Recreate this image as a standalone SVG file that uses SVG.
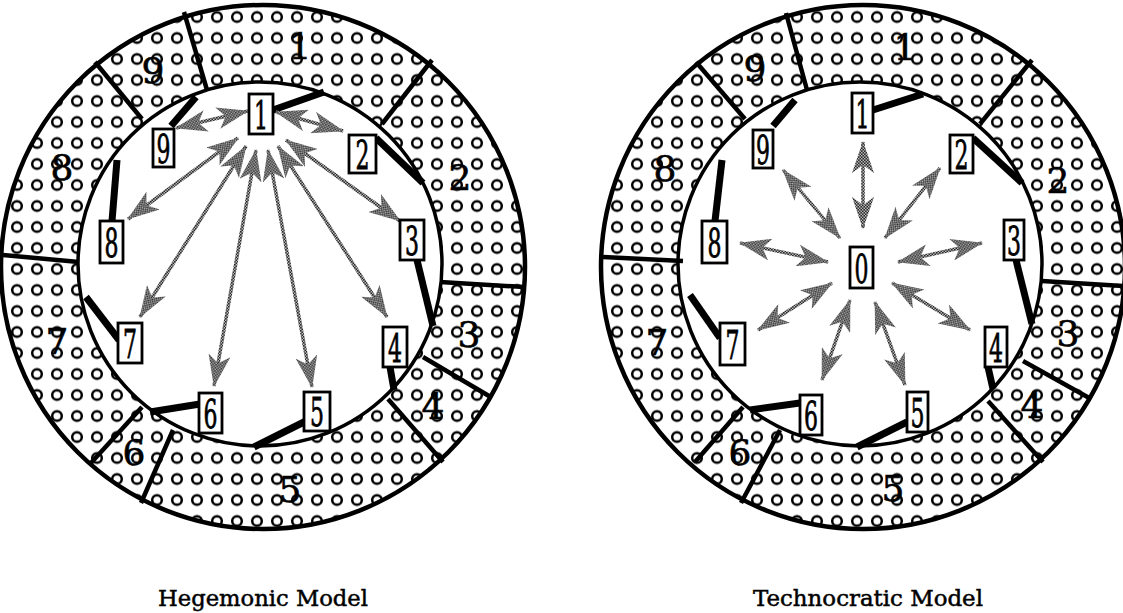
<svg xmlns="http://www.w3.org/2000/svg" width="1123" height="613" viewBox="0 0 1123 613">
<defs>
<pattern id="dots" width="20" height="21" patternUnits="userSpaceOnUse" x="7" y="6.5">
<circle cx="10" cy="10.5" r="4.8" fill="none" stroke="#000" stroke-width="2.5"/>
</pattern>
<pattern id="stip" width="3" height="3" patternUnits="userSpaceOnUse">
<rect width="3" height="3" fill="#b8b8b8"/>
<rect width="1.6" height="1.6" fill="#2a2a2a"/><rect x="1.5" y="1.5" width="1.6" height="1.6" fill="#2a2a2a"/>
</pattern>
<marker id="ah" viewBox="0 0 32 22" refX="31" refY="11" markerWidth="32" markerHeight="22" markerUnits="userSpaceOnUse" orient="auto-start-reverse">
<path d="M0,0 L32,11 L0,22 L8,11 Z" fill="url(#stip)"/>
</marker>
<style>
.bg{fill:#fff}
.ringfill{fill:url(#dots)}
.outer{fill:none;stroke:#000;stroke-width:4.5}
.inner{fill:#fff;stroke:#000;stroke-width:3.5}
.div{stroke:#000;stroke-width:4.5;fill:none}
.seg{font-family:"DejaVu Serif","Liberation Serif",serif;font-size:36px;text-anchor:middle;fill:#000;stroke:#000;stroke-width:0.6}
.box{fill:#fff;stroke:#000;stroke-width:2.8}
.num{font-family:"DejaVu Serif","Liberation Serif",serif;font-size:40px;text-anchor:middle;fill:#000;stroke:#000;stroke-width:0.8}
.link{stroke:#000;stroke-width:7;stroke-linecap:butt;fill:none}
.arr{stroke:url(#stip);stroke-width:3.5;fill:none;marker-start:url(#ah);marker-end:url(#ah)}
.cap{font-family:"DejaVu Serif","Liberation Serif",serif;font-size:23px;fill:#000;stroke:#000;stroke-width:0.5}
</style>
</defs>
<rect width="1123" height="613" fill="#fff"/>

<!-- ===== Hegemonic Model ===== -->
<g id="hegemonic">
<g id="ring-left">
<circle class="bg" cx="263" cy="267" r="262"/>
<circle class="ringfill" cx="263" cy="267" r="262"/>
<circle class="outer" cx="263" cy="267" r="262"/>
<circle class="inner" cx="260" cy="264" r="182"/>
<g id="dividers-left">
<line class="div" x1="184" y1="12" x2="207" y2="90"/>
<line class="div" x1="95" y1="62" x2="142" y2="119"/>
<line class="div" x1="3" y1="255" x2="79" y2="262"/>
<line class="div" x1="90" y1="464" x2="142" y2="407"/>
<line class="div" x1="141" y1="503" x2="173" y2="430"/>
<line class="div" x1="388" y1="399" x2="443" y2="462"/>
<line class="div" x1="423" y1="357" x2="489" y2="396"/>
<line class="div" x1="440" y1="282" x2="524" y2="287"/>
<line class="div" x1="382" y1="124" x2="432" y2="60"/>
</g>
<g id="segment-labels-left">
<text class="seg" x="300" y="59">1</text>
<text class="seg" x="460" y="190">2</text>
<text class="seg" x="469" y="347">3</text>
<text class="seg" x="433" y="419">4</text>
<text class="seg" x="290" y="502">5</text>
<text class="seg" x="134" y="465">6</text>
<text class="seg" x="57" y="354">7</text>
<text class="seg" x="62" y="180">8</text>
<text class="seg" x="153" y="83">9</text>
</g>
</g>

<g id="connectors-left">
<line class="link" x1="273" y1="110" x2="324" y2="92"/>
<line class="link" x1="376" y1="138" x2="423" y2="183"/>
<line class="link" x1="417" y1="260" x2="433" y2="326"/>
<line class="link" x1="390" y1="367" x2="394" y2="390"/>
<line class="link" x1="306" y1="421" x2="254" y2="447"/>
<line class="link" x1="200" y1="404" x2="150" y2="412"/>
<line class="link" x1="119" y1="340" x2="86" y2="297"/>
<line class="link" x1="112" y1="221" x2="117" y2="160"/>
<line class="link" x1="171" y1="126" x2="196" y2="97"/>
<line class="arr" x1="248" y1="111" x2="176" y2="128"/>
<line class="arr" x1="276" y1="112" x2="343" y2="131"/>
<line class="arr" x1="238" y1="138" x2="128" y2="219"/>
<line class="arr" x1="246" y1="146" x2="140" y2="317"/>
<line class="arr" x1="256" y1="150" x2="214" y2="386"/>
<line class="arr" x1="268" y1="150" x2="312" y2="387"/>
<line class="arr" x1="278" y1="146" x2="387" y2="317"/>
<line class="arr" x1="286" y1="140" x2="400" y2="221"/>
</g>

<g id="L-node-1"><rect class="box" x="249" y="94" width="24" height="40"/><text class="num" transform="translate(261,129) scale(0.55,1)">1</text></g>
<g id="L-node-2"><rect class="box" x="349" y="135" width="27" height="38"/><text class="num" transform="translate(362.5,169) scale(0.55,1)">2</text></g>
<g id="L-node-3"><rect class="box" x="400" y="220" width="24" height="40"/><text class="num" transform="translate(412,255) scale(0.55,1)">3</text></g>
<g id="L-node-4"><rect class="box" x="383" y="327" width="24" height="40"/><text class="num" transform="translate(395,362) scale(0.55,1)">4</text></g>
<g id="L-node-5"><rect class="box" x="304" y="392" width="26" height="39"/><text class="num" transform="translate(317,426) scale(0.55,1)">5</text></g>
<g id="L-node-6"><rect class="box" x="199" y="393" width="23" height="40"/><text class="num" transform="translate(210.5,428) scale(0.55,1)">6</text></g>
<g id="L-node-7"><rect class="box" x="118" y="323" width="24" height="40"/><text class="num" transform="translate(130,358) scale(0.55,1)">7</text></g>
<g id="L-node-8"><rect class="box" x="100" y="221" width="23" height="42"/><text class="num" transform="translate(111.5,257) scale(0.55,1)">8</text></g>
<g id="L-node-9"><rect class="box" x="153" y="129" width="21" height="38"/><text class="num" transform="translate(163.5,163) scale(0.55,1)">9</text></g>

<text id="caption-left" class="cap" x="158" y="606" textLength="210" lengthAdjust="spacingAndGlyphs">Hegemonic Model</text>
</g>

<!-- ===== Technocratic Model ===== -->
<g id="technocratic">
<g id="ring-right">
<circle class="bg" cx="863" cy="267" r="262"/>
<circle class="ringfill" cx="863" cy="267" r="262"/>
<circle class="outer" cx="863" cy="267" r="262"/>
<circle class="inner" cx="860" cy="264" r="182"/>
<g id="dividers-right">
<line class="div" x1="786" y1="13" x2="807" y2="90"/>
<line class="div" x1="696" y1="62" x2="745" y2="119"/>
<line class="div" x1="603" y1="257" x2="683" y2="261"/>
<line class="div" x1="695" y1="462" x2="743" y2="407"/>
<line class="div" x1="741" y1="503" x2="780" y2="430"/>
<line class="div" x1="988" y1="401" x2="1043" y2="462"/>
<line class="div" x1="1023" y1="361" x2="1091" y2="399"/>
<line class="div" x1="1042" y1="281" x2="1124" y2="286"/>
<line class="div" x1="980" y1="124" x2="1032" y2="60"/>
</g>
<g id="segment-labels-right">
<text class="seg" x="905" y="60">1</text>
<text class="seg" x="1058" y="193">2</text>
<text class="seg" x="1068" y="346">3</text>
<text class="seg" x="1032" y="418">4</text>
<text class="seg" x="893" y="501">5</text>
<text class="seg" x="740" y="465">6</text>
<text class="seg" x="657" y="355">7</text>
<text class="seg" x="665" y="181">8</text>
<text class="seg" x="755" y="81">9</text>
</g>
</g>

<g id="connectors-right">
<line class="link" x1="873" y1="110" x2="923" y2="94"/>
<line class="link" x1="973" y1="138" x2="1022" y2="183"/>
<line class="link" x1="1016" y1="260" x2="1032" y2="324"/>
<line class="link" x1="988" y1="367" x2="993" y2="389"/>
<line class="link" x1="907" y1="422" x2="857" y2="447"/>
<line class="link" x1="800" y1="403" x2="750" y2="410"/>
<line class="link" x1="720" y1="338" x2="690" y2="295"/>
<line class="link" x1="715" y1="221" x2="722" y2="160"/>
<line class="link" x1="773" y1="126" x2="795" y2="100"/>
<line class="arr" x1="863" y1="228" x2="863" y2="142"/>
<line class="arr" x1="840" y1="238" x2="783" y2="170"/>
<line class="arr" x1="885" y1="238" x2="940" y2="168"/>
<line class="arr" x1="828" y1="262" x2="740" y2="243"/>
<line class="arr" x1="898" y1="262" x2="982" y2="243"/>
<line class="arr" x1="832" y1="283" x2="758" y2="330"/>
<line class="arr" x1="892" y1="283" x2="970" y2="330"/>
<line class="arr" x1="850" y1="300" x2="822" y2="380"/>
<line class="arr" x1="875" y1="302" x2="905" y2="385"/>
</g>

<g id="R-node-0"><rect class="box" x="850" y="247" width="23" height="41"/><text class="num" transform="translate(861.5,283) scale(0.55,1)">0</text></g>
<g id="R-node-1"><rect class="box" x="852" y="93" width="21" height="40"/><text class="num" transform="translate(862.5,128) scale(0.55,1)">1</text></g>
<g id="R-node-2"><rect class="box" x="950" y="135" width="23" height="38"/><text class="num" transform="translate(961.5,169) scale(0.55,1)">2</text></g>
<g id="R-node-3"><rect class="box" x="1004" y="220" width="20" height="40"/><text class="num" transform="translate(1014,255) scale(0.55,1)">3</text></g>
<g id="R-node-4"><rect class="box" x="985" y="327" width="22" height="40"/><text class="num" transform="translate(996,362) scale(0.55,1)">4</text></g>
<g id="R-node-5"><rect class="box" x="907" y="392" width="21" height="40"/><text class="num" transform="translate(917.5,427) scale(0.55,1)">5</text></g>
<g id="R-node-6"><rect class="box" x="800" y="395" width="22" height="40"/><text class="num" transform="translate(811,430) scale(0.55,1)">6</text></g>
<g id="R-node-7"><rect class="box" x="720" y="323" width="25" height="42"/><text class="num" transform="translate(732.5,359) scale(0.55,1)">7</text></g>
<g id="R-node-8"><rect class="box" x="702" y="221" width="25" height="42"/><text class="num" transform="translate(714.5,257) scale(0.55,1)">8</text></g>
<g id="R-node-9"><rect class="box" x="753" y="130" width="20" height="38"/><text class="num" transform="translate(763,164) scale(0.55,1)">9</text></g>

<text id="caption-right" class="cap" x="753" y="606" textLength="230" lengthAdjust="spacingAndGlyphs">Technocratic Model</text>
</g>
</svg>
